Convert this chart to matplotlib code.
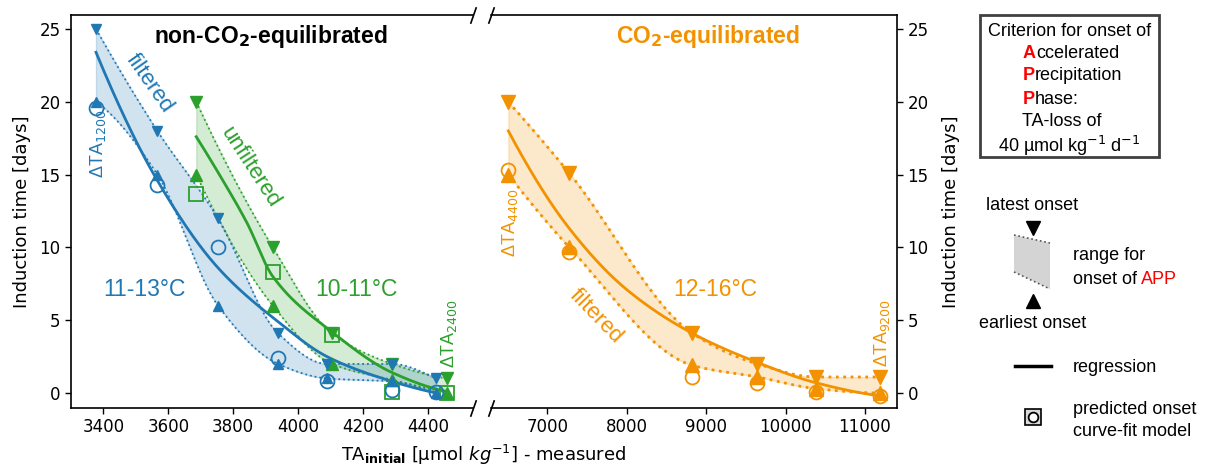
import numpy as np
import matplotlib
matplotlib.use("Agg")
import matplotlib.pyplot as plt
from matplotlib.patches import Rectangle, Polygon

# ---------------- data ----------------
# non-CO2-equilibrated, filtered, 11-13 °C (blue)
blue_x = [3377, 3566, 3753, 3938, 4089, 4289, 4425]
blue_latest = [25.0, 18.0, 12.0, 4.1, 2.0, 2.0, 1.0]
blue_earliest = [20.0, 15.0, 6.0, 2.0, 1.0, 0.8, 0.0]
blue_pred = [19.6, 14.3, 10.0, 2.4, 0.8, 0.2, 0.1]
blue_reg = [23.4, 14.6, 8.6, 4.9, 2.5, 0.8, 0.0]

# non-CO2-equilibrated, unfiltered, 10-11 °C (green)
green_x = [3686, 3922, 4104, 4290, 4460]
green_latest = [20.0, 10.0, 4.1, 2.0, 1.0]
green_earliest = [15.0, 6.0, 2.0, 0.9, 0.0]
green_pred = [13.7, 8.3, 4.0, 0.1, 0.0]
green_reg_x = [3686, 3760, 3842, 3922, 4104, 4290, 4460]
green_reg = [17.6, 14.9, 11.7, 8.0, 4.2, 1.4, 0.1]

# CO2-equilibrated, filtered, 12-16 °C (orange)
orange_x = [6509, 7277, 8826, 9645, 10384, 11190]
orange_latest = [20.0, 15.1, 4.1, 2.0, 1.1, 1.1]
orange_earliest = [15.0, 10.0, 1.9, 1.1, 0.3, 0.0]
orange_pred = [15.3, 9.7, 1.1, 0.7, 0.1, -0.2]
orange_reg_x = [6509, 7277, 8000, 8826, 9645, 10384, 11190]
orange_reg = [18.0, 11.3, 7.1, 4.1, 2.1, 0.7, -0.2]

left_xticks = [3400, 3600, 3800, 4000, 4200, 4400]
right_xticks = [7000, 8000, 9000, 10000, 11000]
yticks = [0, 5, 10, 15, 20, 25]

BLUE = "#1f77b4"
GREEN = "#2ca02c"
ORANGE = "#f39200"
ANN = "Liberation Sans"

plt.rcParams["font.family"] = ["DejaVu Sans"]


def pchip(x, y, xs):
    x = np.asarray(x, float)
    y = np.asarray(y, float)
    h = np.diff(x)
    d = np.diff(y) / h
    n = len(x)
    m = np.zeros(n)
    for k in range(1, n - 1):
        if d[k - 1] * d[k] <= 0:
            m[k] = 0.0
        else:
            w1 = 2 * h[k] + h[k - 1]
            w2 = h[k] + 2 * h[k - 1]
            m[k] = (w1 + w2) / (w1 / d[k - 1] + w2 / d[k])

    def ends(h0, h1, d0, d1):
        s = ((2 * h0 + h1) * d0 - h0 * d1) / (h0 + h1)
        if np.sign(s) != np.sign(d0):
            s = 0.0
        elif np.sign(d0) != np.sign(d1) and abs(s) > abs(3 * d0):
            s = 3 * d0
        return s

    m[0] = ends(h[0], h[1], d[0], d[1])
    m[-1] = ends(h[-1], h[-2], d[-1], d[-2])
    idx = np.clip(np.searchsorted(x, xs) - 1, 0, n - 2)
    t = (xs - x[idx]) / h[idx]
    h00 = 2 * t**3 - 3 * t**2 + 1
    h10 = t**3 - 2 * t**2 + t
    h01 = -2 * t**3 + 3 * t**2
    h11 = t**3 - t**2
    return h00 * y[idx] + h10 * h[idx] * m[idx] + h01 * y[idx + 1] + h11 * h[idx] * m[idx + 1]


W, H = 1206, 470
fig = plt.figure(figsize=(W / 100, H / 100), dpi=100)


def axrect(l, t, r, b):
    return [l / W, 1 - b / H, (r - l) / W, (b - t) / H]


ax1 = fig.add_axes(axrect(71, 15, 473, 408))
ax2 = fig.add_axes(axrect(491, 15, 897, 408))


def draw_group(ax, x, latest, earliest, pred, reg_x, reg, color, tri_ms, pred_marker, lw_dot,
               mz=4, fill_alpha=0.2):
    xs = np.linspace(x[0], x[-1], 300)
    up = pchip(x, latest, xs)
    lo = pchip(x, earliest, xs)
    ax.fill_between(xs, lo, up, color=color, alpha=fill_alpha, lw=1.0, zorder=1)
    ax.plot(xs, up, ls=":", color=color, lw=lw_dot, zorder=2)
    ax.plot(xs, lo, ls=":", color=color, lw=lw_dot, zorder=2)
    rxs = np.linspace(reg_x[0], reg_x[-1], 300)
    ax.plot(rxs, pchip(reg_x, reg, rxs), color=color, lw=2.0, zorder=3)
    ax.plot(x, latest, ls="none", marker="v", ms=tri_ms, color=color, zorder=mz)
    ax.plot(x, earliest, ls="none", marker="^", ms=tri_ms, color=color, zorder=mz)
    ax.plot(x, pred, ls="none", marker=pred_marker, ms=10, mfc="none", mec=color, mew=1.3, zorder=mz + 1)


draw_group(ax1, green_x, green_latest, green_earliest, green_pred, green_reg_x, green_reg, GREEN, 8, "s", 1.3, mz=4)
draw_group(ax1, blue_x, blue_latest, blue_earliest, blue_pred, blue_x, blue_reg, BLUE, 7, "o", 1.3, mz=6)
draw_group(ax2, orange_x, orange_latest, orange_earliest, orange_pred, orange_reg_x, orange_reg, ORANGE, 9.5, "o", 2.0)

for ax in (ax1, ax2):
    ax.set_ylim(-1.03, 25.96)
    ax.set_yticks(yticks)
    ax.tick_params(labelsize=12, length=4, width=1, direction="out")
    for s in ax.spines.values():
        s.set_linewidth(1.2)
ax1.set_xlim(3300, 4539)
ax1.set_xticks(left_xticks)
ax2.set_xlim(6291, 11403)
ax2.set_xticks(right_xticks)
ax1.spines["right"].set_visible(False)
ax2.spines["left"].set_visible(False)
ax2.yaxis.tick_right()
ax2.yaxis.set_label_position("right")
ax1.set_ylabel("Induction time [days]", fontsize=13, labelpad=6)
ax2.set_ylabel("Induction time [days]", fontsize=13, labelpad=10)

fig.text((71 + 897) / 2 / W, 1 - 455 / H, r"TA$_{\bf initial}$ [µmol $kg^{-1}$] - measured",
         ha="center", va="center", fontsize=13)

# broken axis marks
kw = dict(marker=[(-0.35, -1), (0.35, 1)], markersize=12, linestyle="none",
          color="k", mec="k", mew=1.2, clip_on=False)
ax1.plot([1, 1], [0, 1], transform=ax1.transAxes, **kw)
ax2.plot([0, 0], [0, 1], transform=ax2.transAxes, **kw)

# annotations
ax1.text(3917, 24.45, r"non-CO$_\mathbf{2}$-equilibrated", fontsize=16.5, fontweight="bold",
         family=ANN, ha="center", va="center", color="black")
ax1.text(3540, 21.3, "filtered", fontsize=16, family=ANN, color=BLUE, rotation=-55,
         ha="center", va="center", rotation_mode="anchor")
ax1.text(3526, 7.1, "11-13°C", fontsize=16.5, family=ANN, color=BLUE, ha="center", va="center")
ax1.text(3384, 17.1, r"ΔTA$_{1200}$", fontsize=13, family=ANN, color=BLUE, rotation=90,
         ha="center", va="center")
ax1.text(3852, 15.5, "unfiltered", fontsize=16, family=ANN, color=GREEN, rotation=-57,
         ha="center", va="center", rotation_mode="anchor")
ax1.text(4179, 7.1, "10-11°C", fontsize=16.5, family=ANN, color=GREEN, ha="center", va="center")
ax1.text(4465, 4.1, r"ΔTA$_{2400}$", fontsize=13, family=ANN, color=GREEN, rotation=90,
         ha="center", va="center")

ax2.text(9023, 24.45, r"CO$_\mathbf{2}$-equilibrated", fontsize=16.5, fontweight="bold",
         family=ANN, ha="center", va="center", color=ORANGE)
ax2.text(6530, 11.7, r"ΔTA$_{4400}$", fontsize=13, family=ANN, color=ORANGE, rotation=90,
         ha="center", va="center")
ax2.text(7613, 5.3, "filtered", fontsize=16, family=ANN, color=ORANGE, rotation=-46,
         ha="center", va="center", rotation_mode="anchor")
ax2.text(9110, 7.1, "12-16°C", fontsize=16.5, family=ANN, color=ORANGE, ha="center", va="center")
ax2.text(11213, 4.1, r"ΔTA$_{9200}$", fontsize=13, family=ANN, color=ORANGE, rotation=90,
         ha="center", va="center")

# ---------------- legend panel ----------------
lax = fig.add_axes([940 / W, 0, (W - 940) / W, 1])
lax.set_xlim(940, W)
lax.set_ylim(H, 0)
lax.axis("off")

lax.add_patch(Rectangle((980, 15), 179, 142, fill=True, facecolor="white", edgecolor="#404040", lw=2))
LF = 13
lax.text(1069.5, 30, "Criterion for onset of", fontsize=LF, family=ANN, ha="center", va="center_baseline")
lax.text(1069, 143, r"40 µmol kg$^{-1}$ d$^{-1}$", fontsize=LF, family=ANN, ha="center", va="center_baseline")
lax.text(1022, 119, "TA-loss of", fontsize=LF, family=ANN, ha="left", va="center_baseline")

fig.canvas.draw()
renderer = fig.canvas.get_renderer()
inv = lax.transData.inverted()


def two_part(x0, y, first, rest, c1, w1, c2, w2, gap=0.0):
    t1 = lax.text(x0, y, first, fontsize=LF, family=ANN, ha="left", va="center_baseline",
                  color=c1, fontweight=w1)
    bb = t1.get_window_extent(renderer=renderer)
    xr = inv.transform((bb.x1, bb.y0))[0]
    lax.text(xr + gap, y, rest, fontsize=LF, family=ANN, ha="left", va="center_baseline",
             color=c2, fontweight=w2)


two_part(1023, 52, "A", "ccelerated", "red", "bold", "black", "normal")
two_part(1023, 74, "P", "recipitation", "red", "bold", "black", "normal")
two_part(1023, 97, "P", "hase:", "red", "bold", "black", "normal")

lax.text(1032.5, 204, "latest onset", fontsize=LF, family=ANN, ha="center", va="center_baseline")
lax.plot([1033], [228], marker="v", ms=10, color="black", ls="none")
lax.add_patch(Polygon([(1014, 235), (1050, 243), (1050, 289), (1014, 272)], closed=True,
                      facecolor="#d4d4d4", edgecolor="none"))
lax.plot([1014, 1050], [235, 243], ls=":", color="#555555", lw=1.2)
lax.plot([1014, 1050], [272, 289], ls=":", color="#555555", lw=1.2)
lax.plot([1033], [301], marker="^", ms=10, color="black", ls="none")
lax.text(1032.7, 322, "earliest onset", fontsize=LF, family=ANN, ha="center", va="center_baseline")
lax.text(1073, 254, "range for", fontsize=LF, family=ANN, ha="left", va="center_baseline")
two_part(1073, 277, "onset of", "APP", "black", "normal", "red", "normal", gap=3.6)

lax.plot([1015, 1051], [366, 366], color="black", lw=2.5)
lax.text(1073, 366, "regression", fontsize=LF, family=ANN, ha="left", va="center_baseline")

lax.plot([1033], [417], marker="s", ms=11, mfc="#d9d9d9", mec="black", mew=1.2, ls="none")
lax.plot([1033], [417], marker="o", ms=7, mfc="white", mec="black", mew=1.3, ls="none")
lax.text(1073, 407, "predicted onset", fontsize=LF, family=ANN, ha="left", va="center_baseline")
lax.text(1073, 430, "curve-fit model", fontsize=LF, family=ANN, ha="left", va="center_baseline")

fig.savefig("out.png", dpi=100)
